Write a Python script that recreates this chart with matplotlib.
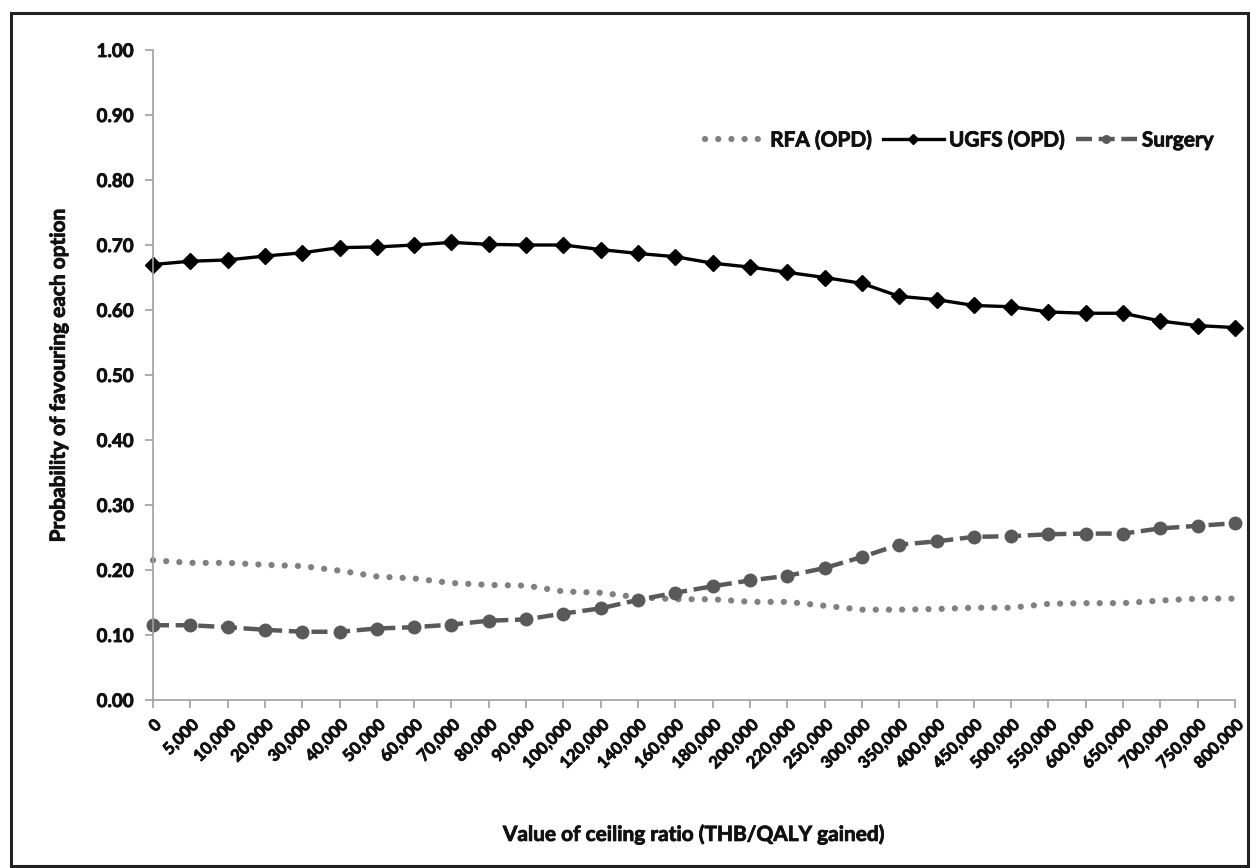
import matplotlib
matplotlib.use("Agg")
import matplotlib.pyplot as plt
from matplotlib.patches import Rectangle
import matplotlib.patheffects as pe

plt.rcParams['font.family'] = ['Lato', 'DejaVu Sans']

categories = ["0", "5,000", "10,000", "20,000", "30,000", "40,000", "50,000", "60,000",
              "70,000", "80,000", "90,000", "100,000", "120,000", "140,000", "160,000",
              "180,000", "200,000", "220,000", "250,000", "300,000", "350,000", "400,000",
              "450,000", "500,000", "550,000", "600,000", "650,000", "700,000", "750,000",
              "800,000"]

rfa = [0.215, 0.211, 0.211, 0.208, 0.206, 0.199, 0.190, 0.187, 0.180, 0.177,
       0.176, 0.167, 0.165, 0.158, 0.155, 0.155, 0.151, 0.151, 0.145, 0.139,
       0.139, 0.140, 0.142, 0.142, 0.148, 0.149, 0.149, 0.153, 0.156, 0.156]

ugfs = [0.670, 0.675, 0.677, 0.683, 0.688, 0.696, 0.697, 0.700, 0.704, 0.701,
        0.700, 0.700, 0.693, 0.687, 0.682, 0.672, 0.666, 0.658, 0.650, 0.641,
        0.621, 0.616, 0.607, 0.605, 0.597, 0.595, 0.595, 0.583, 0.576, 0.573]

surgery = [0.115, 0.115, 0.112, 0.108, 0.105, 0.105, 0.110, 0.112, 0.116, 0.122,
           0.124, 0.133, 0.141, 0.154, 0.165, 0.175, 0.184, 0.191, 0.203, 0.220,
           0.239, 0.244, 0.251, 0.252, 0.255, 0.256, 0.256, 0.264, 0.268, 0.272]

yticks = [0.0, 0.1, 0.2, 0.3, 0.4, 0.5, 0.6, 0.7, 0.8, 0.9, 1.0]

W, H = 1258, 868
fig = plt.figure(figsize=(W / 100, H / 100), dpi=100)
ax = fig.add_axes([153 / W, 1 - 700 / H, (1235 - 153) / W, (700 - 50) / H])

thick = [pe.withStroke(linewidth=0.6, foreground='#111111')]

x = list(range(len(categories)))
ax.plot(x, rfa, color='#808080', lw=4.5, linestyle=(0, (0.01, 2.1)),
        dash_capstyle='round', solid_capstyle='round', label='RFA (OPD)')
ax.plot(x, ugfs, color='black', lw=2.4, marker='D', markersize=8.5,
        label='UGFS (OPD)')
ax.plot(x, surgery, color='#595959', lw=3.2, linestyle=(0, (3.6, 1.5)),
        marker='o', markersize=9, label='Surgery')

ax.set_xlim(0, len(categories) - 1)
ax.set_ylim(0, 1.0)
ax.set_yticks(yticks)
ax.set_yticklabels([f"{v:.2f}" for v in yticks], fontsize=13.5, fontweight='bold',
                   color='#111111')
ax.set_xticks(x)
ax.set_xticklabels(categories, rotation=45, ha='right', rotation_mode='anchor',
                   fontsize=12, fontweight='bold', color='#111111')
for t in ax.get_xticklabels() + ax.get_yticklabels():
    t.set_path_effects(thick)

for s in ['top', 'right']:
    ax.spines[s].set_visible(False)
for s in ['left', 'bottom']:
    ax.spines[s].set_color('#a0a0a0')
    ax.spines[s].set_linewidth(1.2)
ax.tick_params(axis='both', color='#a0a0a0', length=6, width=1.2)
ax.tick_params(axis='y', pad=8)
ax.tick_params(axis='x', pad=6)
for ln in ax.lines:
    ln.set_clip_on(False)

yl = ax.set_ylabel('Probability of favouring each option', fontsize=15,
                   fontweight='bold', labelpad=20, color='#111111')
xl = ax.set_xlabel('Value of ceiling ratio (THB/QALY gained)', fontsize=15,
                   fontweight='bold', labelpad=38, color='#111111')
yl.set_path_effects(thick)
xl.set_path_effects(thick)

leg = ax.legend(loc='upper right', bbox_to_anchor=(0.998, 0.905), ncol=3,
                frameon=False, fontsize=15, handlelength=2.9,
                columnspacing=0.55, handletextpad=0.25, markerscale=0.6)
for t in leg.get_texts():
    t.set_fontweight('bold')
    t.set_color('#111111')
    t.set_path_effects(thick)

fig.patches.append(Rectangle((11 / W, 2 / H), (1248 - 11) / W, (855 - 2) / H,
                             transform=fig.transFigure, fill=False,
                             edgecolor='#222222', lw=2.2))

fig.savefig('out.png', dpi=100)
